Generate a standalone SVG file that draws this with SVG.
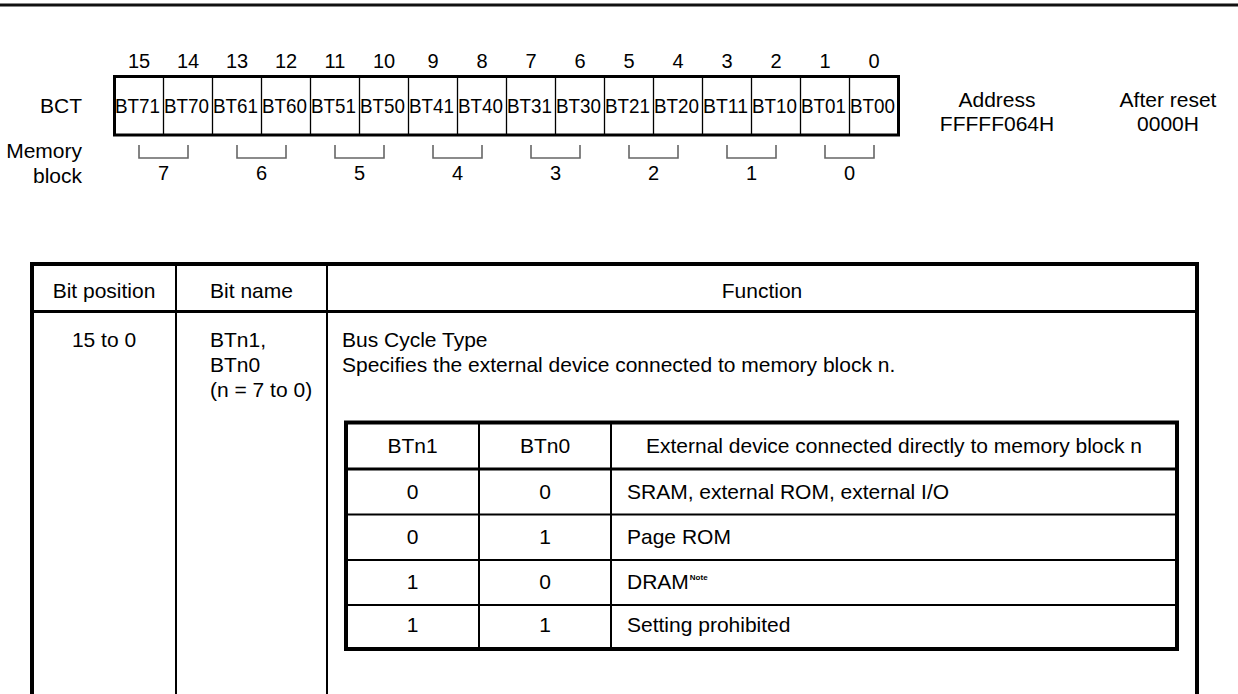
<svg xmlns="http://www.w3.org/2000/svg" width="1238" height="694" viewBox="0 0 1238 694">
<style>
text { font-family: "Liberation Sans", Arial, Helvetica, sans-serif; font-size: 21px; fill: #000; }
.c { text-anchor: middle; }
.r { text-anchor: end; }
.num { font-size: 20px; }
.cell { font-size: 21px; }
.note { font-size: 8px; font-weight: bold; }
.rule { stroke: #111; stroke-width: 3; }
.thick { stroke: #000; stroke-width: 4; fill: none; }
.med { stroke: #000; stroke-width: 3; fill: none; }
.thin { stroke: #000; stroke-width: 2; fill: none; }
.hair { stroke: #000; stroke-width: 1.3; fill: none; }
.br { stroke: #666; stroke-width: 1.6; fill: none; }
</style>

<line class="rule" x1="0" y1="5" x2="1238" y2="5"/>

<g id="bit-numbers">
<text class="c num" x="139" y="68">15</text>
<text class="c num" x="188" y="68">14</text>
<text class="c num" x="237" y="68">13</text>
<text class="c num" x="286" y="68">12</text>
<text class="c num" x="335" y="68">11</text>
<text class="c num" x="384" y="68">10</text>
<text class="c num" x="433" y="68">9</text>
<text class="c num" x="482" y="68">8</text>
<text class="c num" x="531" y="68">7</text>
<text class="c num" x="580" y="68">6</text>
<text class="c num" x="629" y="68">5</text>
<text class="c num" x="678" y="68">4</text>
<text class="c num" x="727" y="68">3</text>
<text class="c num" x="776" y="68">2</text>
<text class="c num" x="825" y="68">1</text>
<text class="c num" x="874" y="68">0</text>
</g>

<g id="register-bct">
<text class="r" x="82" y="113">BCT</text>
<rect class="med" x="114.5" y="76.5" width="784" height="58.5"/>
<path class="hair" d="M163.5 76.5V135M212.5 76.5V135M261.5 76.5V135M310.5 76.5V135M359.5 76.5V135M408.5 76.5V135M457.5 76.5V135M506.5 76.5V135M555.5 76.5V135M604.5 76.5V135M653.5 76.5V135M702.5 76.5V135M751.5 76.5V135M800.5 76.5V135M849.5 76.5V135"/>
<text class="c cell" x="137.5" y="113" textLength="45" lengthAdjust="spacingAndGlyphs">BT71</text>
<text class="c cell" x="186.5" y="113" textLength="45" lengthAdjust="spacingAndGlyphs">BT70</text>
<text class="c cell" x="235.5" y="113" textLength="45" lengthAdjust="spacingAndGlyphs">BT61</text>
<text class="c cell" x="284.5" y="113" textLength="45" lengthAdjust="spacingAndGlyphs">BT60</text>
<text class="c cell" x="333.5" y="113" textLength="45" lengthAdjust="spacingAndGlyphs">BT51</text>
<text class="c cell" x="382.5" y="113" textLength="45" lengthAdjust="spacingAndGlyphs">BT50</text>
<text class="c cell" x="431.5" y="113" textLength="45" lengthAdjust="spacingAndGlyphs">BT41</text>
<text class="c cell" x="480.5" y="113" textLength="45" lengthAdjust="spacingAndGlyphs">BT40</text>
<text class="c cell" x="529.5" y="113" textLength="45" lengthAdjust="spacingAndGlyphs">BT31</text>
<text class="c cell" x="578.5" y="113" textLength="45" lengthAdjust="spacingAndGlyphs">BT30</text>
<text class="c cell" x="627.5" y="113" textLength="45" lengthAdjust="spacingAndGlyphs">BT21</text>
<text class="c cell" x="676.5" y="113" textLength="45" lengthAdjust="spacingAndGlyphs">BT20</text>
<text class="c cell" x="725.5" y="113" textLength="45" lengthAdjust="spacingAndGlyphs">BT11</text>
<text class="c cell" x="774.5" y="113" textLength="45" lengthAdjust="spacingAndGlyphs">BT10</text>
<text class="c cell" x="823.5" y="113" textLength="45" lengthAdjust="spacingAndGlyphs">BT01</text>
<text class="c cell" x="872.5" y="113" textLength="45" lengthAdjust="spacingAndGlyphs">BT00</text>
</g>

<g id="memory-blocks">
<text class="r" x="82" y="158">Memory</text>
<text class="r" x="82" y="183">block</text>
<path class="br" d="M139 145V158H188V145M237 145V158H286V145M335 145V158H384V145M433 145V158H482V145M531 145V158H580V145M629 145V158H678V145M727 145V158H776V145M825 145V158H874V145"/>
<text class="c num" x="163.5" y="180">7</text>
<text class="c num" x="261.5" y="180">6</text>
<text class="c num" x="359.5" y="180">5</text>
<text class="c num" x="457.5" y="180">4</text>
<text class="c num" x="555.5" y="180">3</text>
<text class="c num" x="653.5" y="180">2</text>
<text class="c num" x="751.5" y="180">1</text>
<text class="c num" x="849.5" y="180">0</text>
</g>

<g id="address">
<text class="c" x="997" y="107">Address</text>
<text class="c" x="997" y="131">FFFFF064H</text>
</g>
<g id="after-reset">
<text class="c" x="1168" y="107">After reset</text>
<text class="c" x="1168" y="131">0000H</text>
</g>

<g id="function-table">
<path class="thick" d="M32 700V264H1197V700"/>
<path class="med" d="M32 311.5H1197"/>
<path class="thin" d="M176 264V700M327 264V700"/>
<text class="c" x="104" y="298">Bit position</text>
<text class="c" x="251.5" y="298">Bit name</text>
<text class="c" x="762" y="298">Function</text>
<text class="c" x="104" y="347">15 to 0</text>
<text x="210" y="347">BTn1,</text>
<text x="210" y="372">BTn0</text>
<text x="210" y="397">(n = 7 to 0)</text>
<text x="342" y="347">Bus Cycle Type</text>
<text x="342" y="372">Specifies the external device connected to memory block n.</text>
</g>

<g id="bt-setting-table">
<rect class="thick" x="346" y="422.5" width="831" height="226.5"/>
<path class="med" d="M346 469H1177"/>
<path class="thin" d="M346 514.5H1177M346 560H1177M346 605H1177M479 422.5V649M611 422.5V649"/>
<text class="c" x="412.5" y="453">BTn1</text>
<text class="c" x="545" y="453">BTn0</text>
<text class="c" x="894" y="453">External device connected directly to memory block n</text>
<text class="c" x="412.5" y="499">0</text>
<text class="c" x="545" y="499">0</text>
<text x="627" y="499">SRAM, external ROM, external I/O</text>
<text class="c" x="412.5" y="544">0</text>
<text class="c" x="545" y="544">1</text>
<text x="627" y="544">Page ROM</text>
<text class="c" x="412.5" y="589">1</text>
<text class="c" x="545" y="589">0</text>
<text x="627" y="589">DRAM<tspan class="note" dx="1" dy="-9">Note</tspan></text>
<text class="c" x="412.5" y="632">1</text>
<text class="c" x="545" y="632">1</text>
<text x="627" y="632">Setting prohibited</text>
</g>
</svg>
